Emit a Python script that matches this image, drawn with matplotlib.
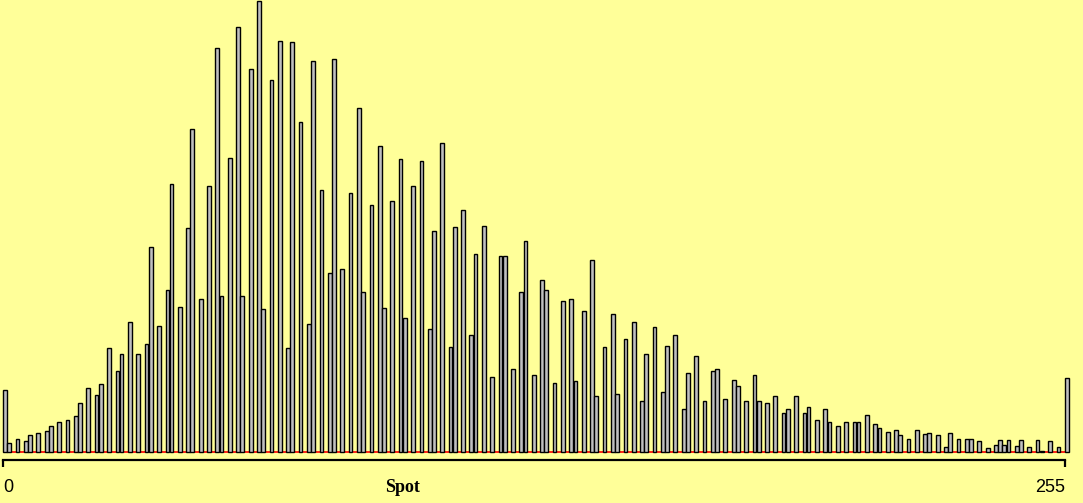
import matplotlib
matplotlib.use("Agg")
import matplotlib.pyplot as plt

# histogram counts for spot values 0..255 (16 per row)
counts = [
    62, 9, 0, 13, 0, 11, 17, 0, 19, 0, 21, 26, 0, 30, 0, 32,
    0, 36, 49, 0, 64, 0, 57, 68, 0, 104, 0, 81, 98, 0, 130, 0,
    98, 0, 108, 205, 0, 126, 0, 162, 268, 0, 145, 0, 224, 323, 0, 153,
    0, 266, 0, 404, 156, 0, 294, 0, 425, 156, 0, 383, 0, 451, 143, 0,
    372, 0, 411, 0, 104, 410, 0, 330, 0, 128, 391, 0, 262, 0, 179, 393,
    0, 183, 0, 259, 0, 344, 160, 0, 247, 0, 306, 144, 0, 251, 0, 293,
    134, 0, 266, 0, 291, 0, 123, 221, 0, 309, 0, 105, 225, 0, 242, 0,
    117, 198, 0, 226, 0, 75, 0, 196, 196, 0, 83, 0, 160, 211, 0, 77,
    0, 172, 162, 0, 69, 0, 151, 0, 153, 71, 0, 141, 0, 192, 56, 0,
    105, 0, 138, 58, 0, 113, 0, 130, 0, 51, 98, 0, 125, 0, 60, 106,
    0, 117, 0, 43, 79, 0, 96, 0, 51, 0, 81, 83, 0, 53, 0, 72,
    66, 0, 51, 0, 77, 51, 0, 49, 0, 56, 0, 39, 43, 0, 56, 0,
    39, 45, 0, 32, 0, 43, 30, 0, 26, 0, 30, 0, 30, 30, 0, 37,
    0, 28, 24, 0, 20, 0, 22, 17, 0, 13, 0, 22, 0, 18, 19, 0,
    17, 0, 5, 19, 0, 13, 0, 13, 13, 0, 11, 0, 4, 0, 7, 12,
    7, 12, 0, 6, 12, 0, 5, 0, 12, 1, 0, 11, 0, 5, 0, 74,
]
spots = list(range(len(counts)))
tick_labels = ["0", "255"]
x_label = "Spot"

bg = "#ffff99"

fig = plt.figure(figsize=(10.83, 5.03), dpi=100, facecolor=bg)
ax = fig.add_axes([0, 49 / 503, 1, 454 / 503], facecolor=bg)

# empty bins show up as red marks on the baseline
ax.hlines(0, spots[0] - 0.5, spots[-1] + 0.5, color="red", lw=1.2, zorder=1)
edges = ["black" if c > 0 else "none" for c in counts]
ax.bar(spots, counts, width=0.9, color="#c0c0c0", edgecolor=edges,
       linewidth=1.0, zorder=2)

ax.set_xlim(-1.2, 258.9)
ax.set_ylim(-2, 452)

for side in ["left", "right", "top"]:
    ax.spines[side].set_visible(False)
ax.spines["bottom"].set_position(("outward", 4))
ax.spines["bottom"].set_linewidth(1.6)
ax.spines["bottom"].set_bounds(-0.5, 254.5)

ax.set_yticks([])
ax.set_xticks([-0.5, 254.5])
ax.set_xticklabels(tick_labels, fontsize=13, family="Liberation Sans")
ax.tick_params(axis="x", direction="out", length=5, width=1.6, pad=9)
labels = ax.get_xticklabels()
labels[0].set_horizontalalignment("left")
labels[1].set_horizontalalignment("right")

fig.text(403 / 1083, 1 - 488 / 503, x_label, ha="center", va="center",
         fontsize=13, fontweight="bold", family="Liberation Serif")

fig.savefig("out.png", dpi=100, facecolor=bg)
